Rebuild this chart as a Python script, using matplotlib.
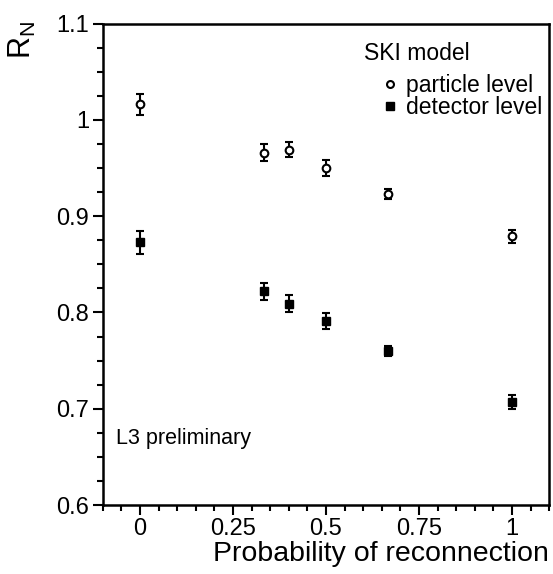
import matplotlib.pyplot as plt
from matplotlib.lines import Line2D
from matplotlib.ticker import MultipleLocator

plt.rcParams['font.family'] = ['Liberation Sans', 'DejaVu Sans']

# probability of reconnection (SKI model)
prob = [0, 1/3, 0.4, 0.5, 2/3, 1]

# R_N values
particle = [1.016, 0.966, 0.969, 0.950, 0.923, 0.879]
particle_err = [0.011, 0.009, 0.008, 0.008, 0.005, 0.007]
detector = [0.873, 0.822, 0.809, 0.791, 0.760, 0.707]
detector_err = [0.012, 0.009, 0.009, 0.008, 0.005, 0.007]

xticks = [0, 0.25, 0.5, 0.75, 1]
xticklabels = ['0', '0.25', '0.5', '0.75', '1']
yticks = [0.6, 0.7, 0.8, 0.9, 1.0, 1.1]
yticklabels = ['0.6', '0.7', '0.8', '0.9', '1', '1.1']

fig = plt.figure(figsize=(5.53, 5.74), dpi=100)
ax = fig.add_axes([0.186, 0.12, 0.807, 0.839])

ax.errorbar(prob, particle, yerr=particle_err, fmt='o', mfc='white', mec='black',
            mew=1.5, ms=5.5, ecolor='black', elinewidth=1.5, capsize=3, capthick=1.5)
ax.errorbar(prob, detector, yerr=detector_err, fmt='s', mfc='black', mec='black',
            ms=6, ecolor='black', elinewidth=1.5, capsize=3, capthick=1.5)

ax.set_xlim(-0.1, 1.1)
ax.set_ylim(0.6, 1.1)
ax.set_xticks(xticks)
ax.set_xticklabels(xticklabels)
ax.set_yticks(yticks)
ax.set_yticklabels(yticklabels)
ax.xaxis.set_minor_locator(MultipleLocator(0.05))
ax.yaxis.set_minor_locator(MultipleLocator(0.025))
ax.tick_params(which='both', direction='out', top=False, right=False, width=1.5,
               labelsize=17, colors='black')
ax.tick_params(which='major', length=7, pad=3)
ax.tick_params(axis='x', which='major', pad=2)
ax.tick_params(which='minor', length=4)
for s in ax.spines.values():
    s.set_linewidth(1.8)

ax.set_xlabel('Probability of reconnection', fontsize=20.5, loc='right', labelpad=1)
fig.text(0.012, 0.93, r'$\mathregular{R_N}$', rotation=90, fontsize=22, va='center')

ax.text(0.586, 0.938, 'SKI model', transform=ax.transAxes, fontsize=16.5, va='center')
handles = [Line2D([], [], marker='o', ls='none', mfc='white', mec='black', mew=1.5, ms=5),
           Line2D([], [], marker='s', ls='none', mfc='black', mec='black', ms=5.5)]
ax.legend(handles, ['particle level', 'detector level'], loc='upper left',
          bbox_to_anchor=(0.622, 0.895), frameon=False, fontsize=16.5,
          handlelength=0.8, handletextpad=0.3, labelspacing=-0.05,
          borderpad=0, borderaxespad=0)
ax.text(0.03, 0.138, 'L3 preliminary', transform=ax.transAxes, fontsize=15.5, va='center')

fig.savefig('out.png', dpi=100)
